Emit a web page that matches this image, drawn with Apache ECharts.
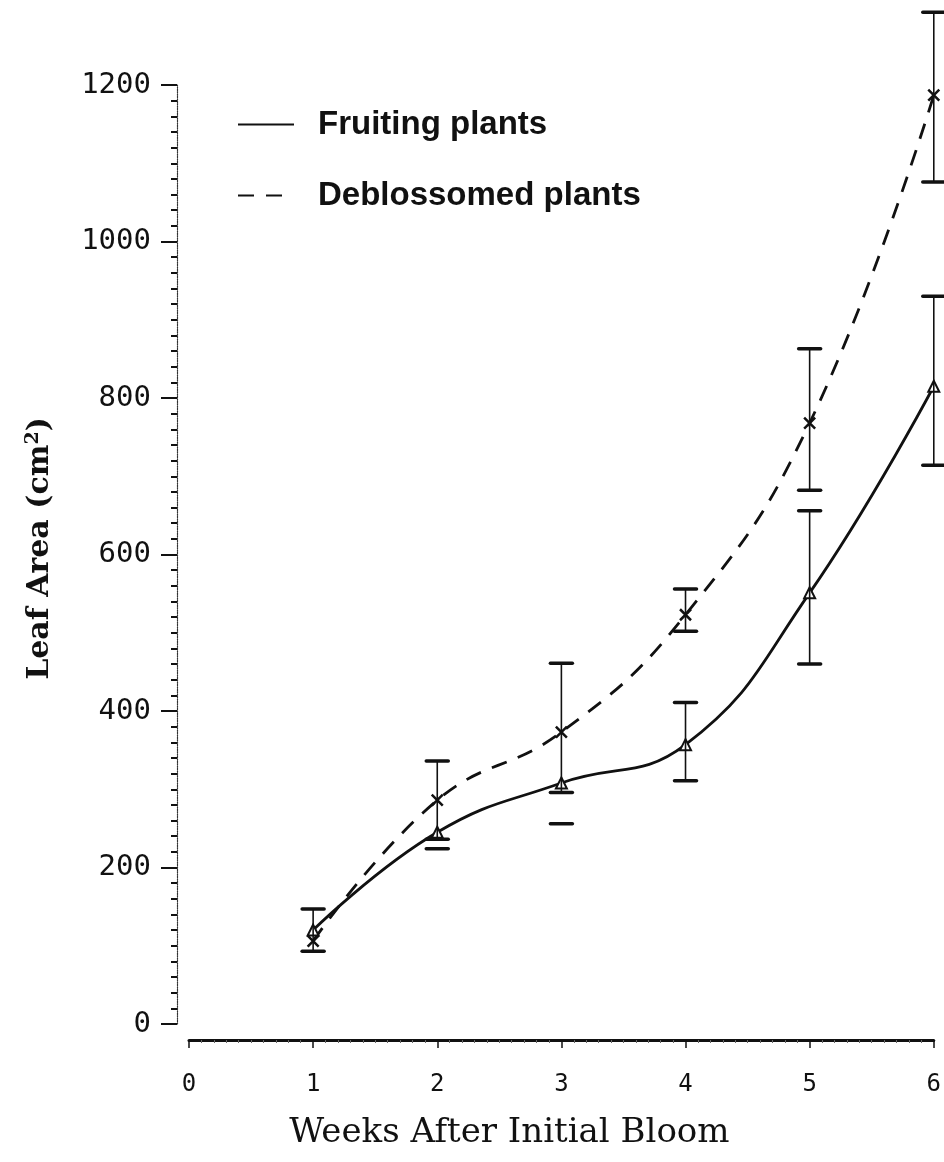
<!DOCTYPE html>
<html>
<head>
<meta charset="utf-8">
<script src="https://cdn.jsdelivr.net/npm/echarts@6/dist/echarts.min.js"></script>
<style>
  html, body { margin: 0; padding: 0; background: #fff; }
  #chart { width: 944px; height: 1162px; }
</style>
</head>
<body>
<div id="chart"></div>
<script>
// values
const weeks = [1, 2, 3, 4, 5, 6];
const fruiting = [120, 245, 308, 357, 551, 815];
const fruitingLow = [93, 224, 256, 311, 460, 714];
const fruitingHigh = [147, null, null, 411, 656, 930];
const deblossomed = [106, 286, 373, 523, 768, 1187];
const deblossomedLow = [null, 236, 296, 502, 682, 1076];
const deblossomedHigh = [null, 336, 461, 556, 863, 1293];
const xTicks = [0, 1, 2, 3, 4, 5, 6];
const yTicks = [0, 200, 400, 600, 800, 1000, 1200];

let myChart = echarts.init(document.getElementById('chart'));
let ink = '#111';

function pairs(ys) {
    return weeks.map((w, i) => [w, ys[i]]);
}
function bars(lo, hi) {
    return weeks.map((w, i) => [w, lo[i] == null ? NaN : lo[i], hi[i] == null ? NaN : hi[i]]);
}

// vertical bar with a flat cap on each drawn end
function errorBar(params, api) {
    let x = api.value(0), lo = api.value(1), hi = api.value(2);
    let half = 11;
    let kids = [];
    let top = isNaN(hi) ? null : api.coord([x, hi]);
    let bot = isNaN(lo) ? null : api.coord([x, lo]);
    if (top && bot) {
        kids.push({ type: 'line', shape: { x1: top[0], y1: top[1], x2: bot[0], y2: bot[1] },
            style: { stroke: ink, lineWidth: 1.6 } });
    }
    [top, bot].forEach(p => {
        if (!p) return;
        kids.push({ type: 'line', shape: { x1: p[0] - half, y1: p[1], x2: p[0] + half, y2: p[1] },
            style: { stroke: ink, lineWidth: 3.5, lineCap: 'round' } });
    });
    return { type: 'group', children: kids };
}

let option = {
    backgroundColor: '#fff',
    animation: false,
    grid: { left: 189, right: 10, top: 85, bottom: 138 },
    legend: {
        orient: 'vertical',
        left: 232,
        top: 103,
        itemGap: 38,
        itemWidth: 56,
        itemHeight: 22,
        itemStyle: { opacity: 0 },
        textStyle: {
            fontFamily: 'Liberation Sans',
            fontWeight: 'bold',
            fontSize: 33,
            color: ink,
            padding: [0, 0, 0, 19]
        },
        data: ['Fruiting plants', 'Deblossomed plants']
    },
    xAxis: {
        type: 'value',
        min: 0,
        max: 6,
        interval: 1,
        offset: 16,
        name: 'Weeks After Initial Bloom',
        nameLocation: 'middle',
        nameGap: 76,
        nameTextStyle: { fontFamily: 'DejaVu Serif', fontSize: 34, color: ink, padding: [0, 104, 0, 0] },
        axisLine: { onZero: false, lineStyle: { color: ink, width: 3 } },
        axisTick: { length: 8, lineStyle: { color: ink, width: 1.5 } },
        minorTick: { show: true, splitNumber: 10, length: 3, lineStyle: { color: '#666', width: 1 } },
        axisLabel: {
            margin: 33,
            fontFamily: 'DejaVu Sans Mono',
            fontSize: 24,
            color: ink,
            formatter: v => xTicks.indexOf(v) >= 0 ? String(v) : ''
        },
        splitLine: { show: false }
    },
    yAxis: {
        type: 'value',
        min: 0,
        max: 1200,
        interval: 200,
        offset: 12,
        name: 'Leaf Area (cm{sup|2})',
        nameLocation: 'middle',
        nameGap: 120,
        nameTextStyle: {
            fontFamily: 'DejaVu Serif',
            fontWeight: 'bold',
            fontSize: 30,
            color: ink,
            padding: [0, 0, 0, 12],
            rich: {
                sup: { fontFamily: 'DejaVu Serif', fontWeight: 'bold', fontSize: 19, color: ink, verticalAlign: 'bottom', padding: [0, 0, 14, 0] }
            }
        },
        axisLine: { show: true, onZero: false, lineStyle: { color: '#333', width: 1.2, type: 'dotted' } },
        axisTick: { inside: false, length: 16, lineStyle: { color: ink, width: 2 } },
        minorTick: { show: true, splitNumber: 10, length: 6, lineStyle: { color: ink, width: 2 } },
        axisLabel: {
            margin: 26,
            fontFamily: 'DejaVu Sans Mono',
            fontSize: 29,
            color: ink,
            formatter: v => yTicks.indexOf(v) >= 0 ? String(v) : ''
        },
        splitLine: { show: false }
    },
    series: [
        {
            name: 'Fruiting plants',
            type: 'line',
            smooth: 0.45,
            data: pairs(fruiting),
            symbol: 'triangle',
            symbolSize: 11,
            itemStyle: { color: '#fff', borderColor: ink, borderWidth: 2 },
            lineStyle: { color: ink, width: 2.8 },
            z: 3
        },
        {
            name: 'Deblossomed plants',
            type: 'line',
            smooth: 0.45,
            data: pairs(deblossomed),
            symbol: 'path://M0,0L10,10M10,0L0,10',
            symbolSize: 11,
            itemStyle: { color: 'none', borderColor: ink, borderWidth: 2.5 },
            lineStyle: { color: ink, width: 2.8, type: [16, 12] },
            z: 3
        },
        {
            type: 'custom',
            name: 'fruiting error',
            renderItem: errorBar,
            data: bars(fruitingLow, fruitingHigh),
            clip: false,
            z: 4
        },
        {
            type: 'custom',
            name: 'deblossomed error',
            renderItem: errorBar,
            data: bars(deblossomedLow, deblossomedHigh),
            clip: false,
            z: 4
        }
    ]
};
myChart.setOption(option);
</script>
</body>
</html>
